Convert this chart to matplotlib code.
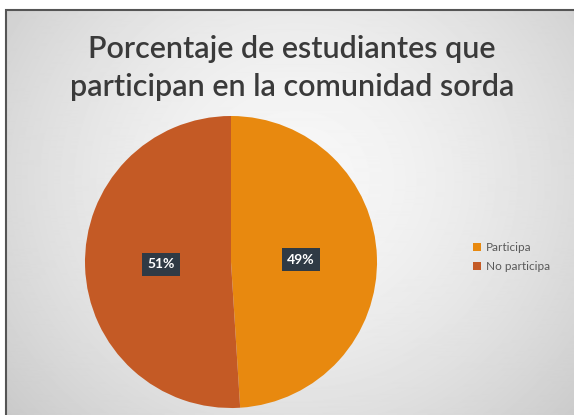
# -*- coding: utf-8 -*-

import matplotlib
matplotlib.use('Agg')
import matplotlib.pyplot as plt
import numpy as np
from matplotlib.patches import Rectangle

plt.rcParams['font.family'] = ['Lato', 'DejaVu Sans']

# datos
categorias = ['Participa', 'No participa']
valores = [49, 51]
colores = ['#E8890F', '#C45A25']
titulo = 'Porcentaje de estudiantes que\nparticipan en la comunidad sorda'

W, H = 574, 415
fig = plt.figure(figsize=(W / 100, H / 100), dpi=100, facecolor='white')

# fondo con degradado radial
x0, y0 = 6 / W, 0
bw, bh = 1 - x0, 405 / H
bg = fig.add_axes([x0, y0, bw, bh])
yy, xx = np.mgrid[0:405, 0:568]
d = np.sqrt(((xx - 290) / 340.0) ** 2 + ((yy - 170) / 320.0) ** 2)
img = 0.97 - 0.15 * np.clip(d, 0, 1.3) ** 1.6
bg.imshow(img, cmap='gray', vmin=0, vmax=1, aspect='auto', interpolation='bilinear')
bg.set_axis_off()
fig.patches.append(Rectangle((x0, -0.01), 1.1, bh + 0.01, transform=fig.transFigure,
                             fill=False, edgecolor='#555555', linewidth=1.5))

# título
fig.text(292 / W, 1 - 68 / H, titulo, ha='center', va='center', fontsize=22,
         color='#3A3A3A', linespacing=1.4, fontweight='semibold')

# gráfico circular
cx, cy, r = 231, 262, 146
ax = fig.add_axes([(cx - r) / W, (H - cy - r) / H, 2 * r / W, 2 * r / H])
wedges, texts, autotexts = ax.pie(valores, colors=colores, startangle=90, counterclock=False,
                                  autopct='%1.0f%%', pctdistance=0.48,
                                  wedgeprops=dict(linewidth=0))
for t in autotexts:
    t.set_color('white')
    t.set_fontweight('bold')
    t.set_fontsize(10)
    t.set_bbox(dict(boxstyle='square,pad=0.4', facecolor='#2F3A45', edgecolor='none'))
ax.set_xlim(-1, 1)
ax.set_ylim(-1, 1)
ax.set_aspect('equal')

# leyenda
fig.legend(wedges, categorias, loc='center left', bbox_to_anchor=(462 / W, 1 - 257 / H),
           frameon=False, fontsize=8.5, labelcolor='#595959', handlelength=0.7,
           handleheight=0.7, handletextpad=0.4, labelspacing=0.7)

fig.savefig('out.png', dpi=100, facecolor='white')
